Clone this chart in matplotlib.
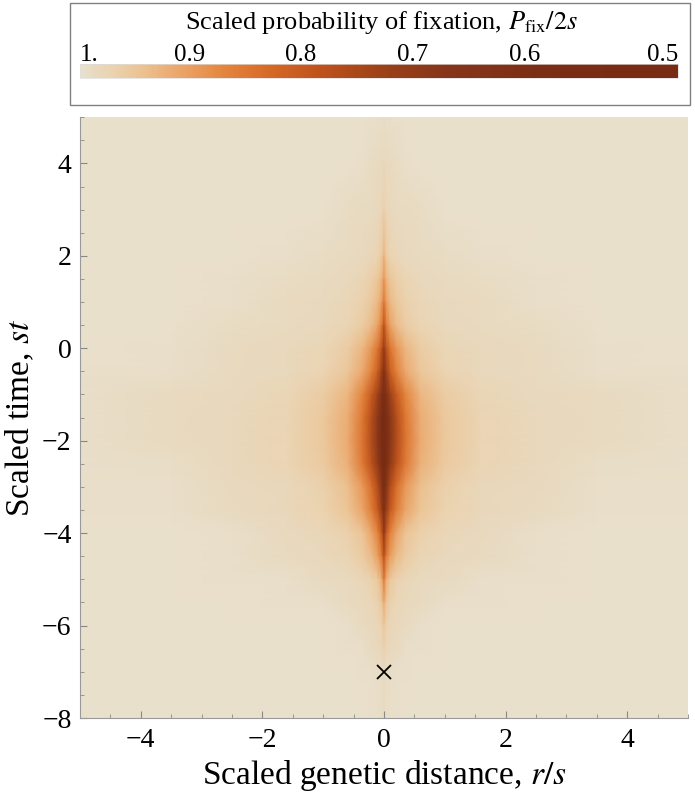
import numpy as np
import matplotlib.pyplot as plt
from matplotlib.colors import LinearSegmentedColormap, Normalize
from matplotlib.cm import ScalarMappable
from matplotlib.patches import Rectangle
from matplotlib.ticker import MultipleLocator

plt.rcParams['font.family'] = ['Liberation Serif', 'DejaVu Serif']
plt.rcParams['mathtext.fontset'] = 'stix'

# grid nodes (right half, mirrored about r/s = 0)
x_half = [0, 0.04, 0.1, 0.2, 0.35, 0.6, 1.0, 1.6, 2.5, 3.5, 5.0]
y_nodes = [5, 4, 3, 2, 1.5, 1, 0.5, 0, -0.5, -1, -1.5, -2, -2.5,
           -3, -3.5, -4, -4.5, -5, -5.5, -6, -6.5, -7, -8]

# scaled fixation probability at each node (rows follow y_nodes)
p_half = [
    [.993, .995, .996, .996, .997, .997, .997, .997, .997, .997, .997],
    [.984, .988, .990, .991, .996, .997, .997, .997, .997, .997, .997],
    [.972, .982, .986, .989, .990, .991, .997, .997, .997, .997, .997],
    [.932, .962, .975, .982, .987, .990, .991, .996, .997, .997, .997],
    [.902, .934, .954, .968, .978, .985, .989, .991, .996, .997, .997],
    [.862, .909, .937, .957, .972, .982, .987, .990, .996, .997, .997],
    [.802, .870, .912, .941, .963, .978, .985, .989, .991, .997, .997],
    [.732, .800, .857, .898, .935, .963, .979, .986, .990, .996, .997],
    [.662, .748, .820, .873, .919, .956, .975, .985, .989, .996, .996],
    [.582, .664, .746, .812, .877, .935, .963, .980, .987, .990, .996],
    [.512, .608, .704, .781, .858, .925, .958, .978, .986, .989, .996],
    [.502, .600, .698, .776, .855, .923, .958, .977, .986, .989, .995],
    [.532, .624, .716, .790, .863, .928, .960, .978, .986, .994, .996],
    [.582, .689, .779, .844, .902, .947, .971, .983, .988, .995, .996],
    [.642, .733, .810, .866, .915, .953, .974, .984, .989, .996, .996],
    [.712, .813, .874, .916, .950, .971, .982, .988, .995, .997, .997],
    [.792, .864, .908, .938, .962, .977, .985, .989, .996, .997, .997],
    [.862, .927, .956, .971, .982, .987, .990, .996, .996, .997, .997],
    [.922, .957, .972, .981, .986, .989, .996, .996, .997, .997, .997],
    [.957, .974, .982, .986, .989, .996, .997, .997, .997, .997, .997],
    [.972, .982, .986, .989, .995, .996, .997, .997, .997, .997, .997],
    [.987, .992, .994, .995, .996, .997, .997, .997, .997, .997, .997],
    [.991, .994, .995, .996, .997, .997, .997, .997, .997, .997, .997],
]

# sweep origin marker
x_mark = [0]
y_mark = [-7]

cbar_labels = ['1.', '0.9', '0.8', '0.7', '0.6', '0.5']

x_full = np.concatenate([-np.array(x_half[:0:-1]), x_half])
p = np.array(p_half)
p_full = np.hstack([p[:, :0:-1], p])

stops = [
    (0.00, '#792b13'),
    (0.24, '#7c2e14'),
    (0.40, '#88361a'),
    (0.50, '#9e4218'),
    (0.60, '#bf531c'),
    (0.68, '#d56826'),
    (0.76, '#e4853e'),
    (0.84, '#eba86d'),
    (0.90, '#ecc393'),
    (0.95, '#ebd3b0'),
    (0.98, '#e8dac0'),
    (1.00, '#e9e1cf'),
]
cmap = LinearSegmentedColormap.from_list('fix', stops)
norm = Normalize(vmin=0.5, vmax=1.0)

fig = plt.figure(figsize=(6.95, 8), dpi=100)

# main heat map
ax = fig.add_axes([0.115, 0.1025, 0.875, 0.751])
ax.pcolormesh(x_full, y_nodes, p_full, cmap=cmap, norm=norm, shading='gouraud')
ax.plot(x_mark, y_mark, linestyle='none', marker='x', color='k', ms=10, mew=1.3)
ax.set_xlim(-5, 5)
ax.set_ylim(-8, 5)
ax.xaxis.set_major_locator(MultipleLocator(2))
ax.xaxis.set_minor_locator(MultipleLocator(0.5))
ax.yaxis.set_major_locator(MultipleLocator(2))
ax.yaxis.set_minor_locator(MultipleLocator(0.5))
ax.tick_params(which='both', direction='in', color='#888888', labelsize=20)
ax.tick_params(which='major', length=5, width=0.8)
ax.tick_params(which='minor', length=3, width=0.6)
ax.tick_params(axis='x', pad=7)
ax.tick_params(axis='y', pad=6)
for side in ['top', 'right']:
    ax.spines[side].set_visible(False)
for side in ['left', 'bottom']:
    ax.spines[side].set_color('#999999')
    ax.spines[side].set_linewidth(0.8)
ax.set_xlabel('Scaled genetic distance, $r/s$', fontsize=24, labelpad=4)
ax.set_ylabel('Scaled time, $st$', fontsize=24, labelpad=4)

# legend box with colour bar
fig.patches.append(Rectangle((0.1007, 0.869), 0.892, 0.1275, transform=fig.transFigure,
                             fill=False, ec='#808080', lw=1))
cax = fig.add_axes([0.115, 0.9025, 0.860, 0.0175])
cb = fig.colorbar(ScalarMappable(norm=norm, cmap=cmap), cax=cax, orientation='horizontal')
cax.invert_xaxis()
cb.set_ticks([])
cb.outline.set_edgecolor('#dddddd')
cb.outline.set_linewidth(0.5)

fig.text(0.549, 0.972, 'Scaled probability of fixation, $P_{\\mathrm{fix}}/2s$',
         ha='center', va='center', fontsize=19)
label_x = [0.1151, 0.2734, 0.4331, 0.5942, 0.7554, 0.9755]
label_ha = ['left', 'center', 'center', 'center', 'center', 'right']
for lab, lx, ha in zip(cbar_labels, label_x, label_ha):
    fig.text(lx, 0.931, lab, ha=ha, va='center', fontsize=18)

fig.savefig('out.png', dpi=100)
